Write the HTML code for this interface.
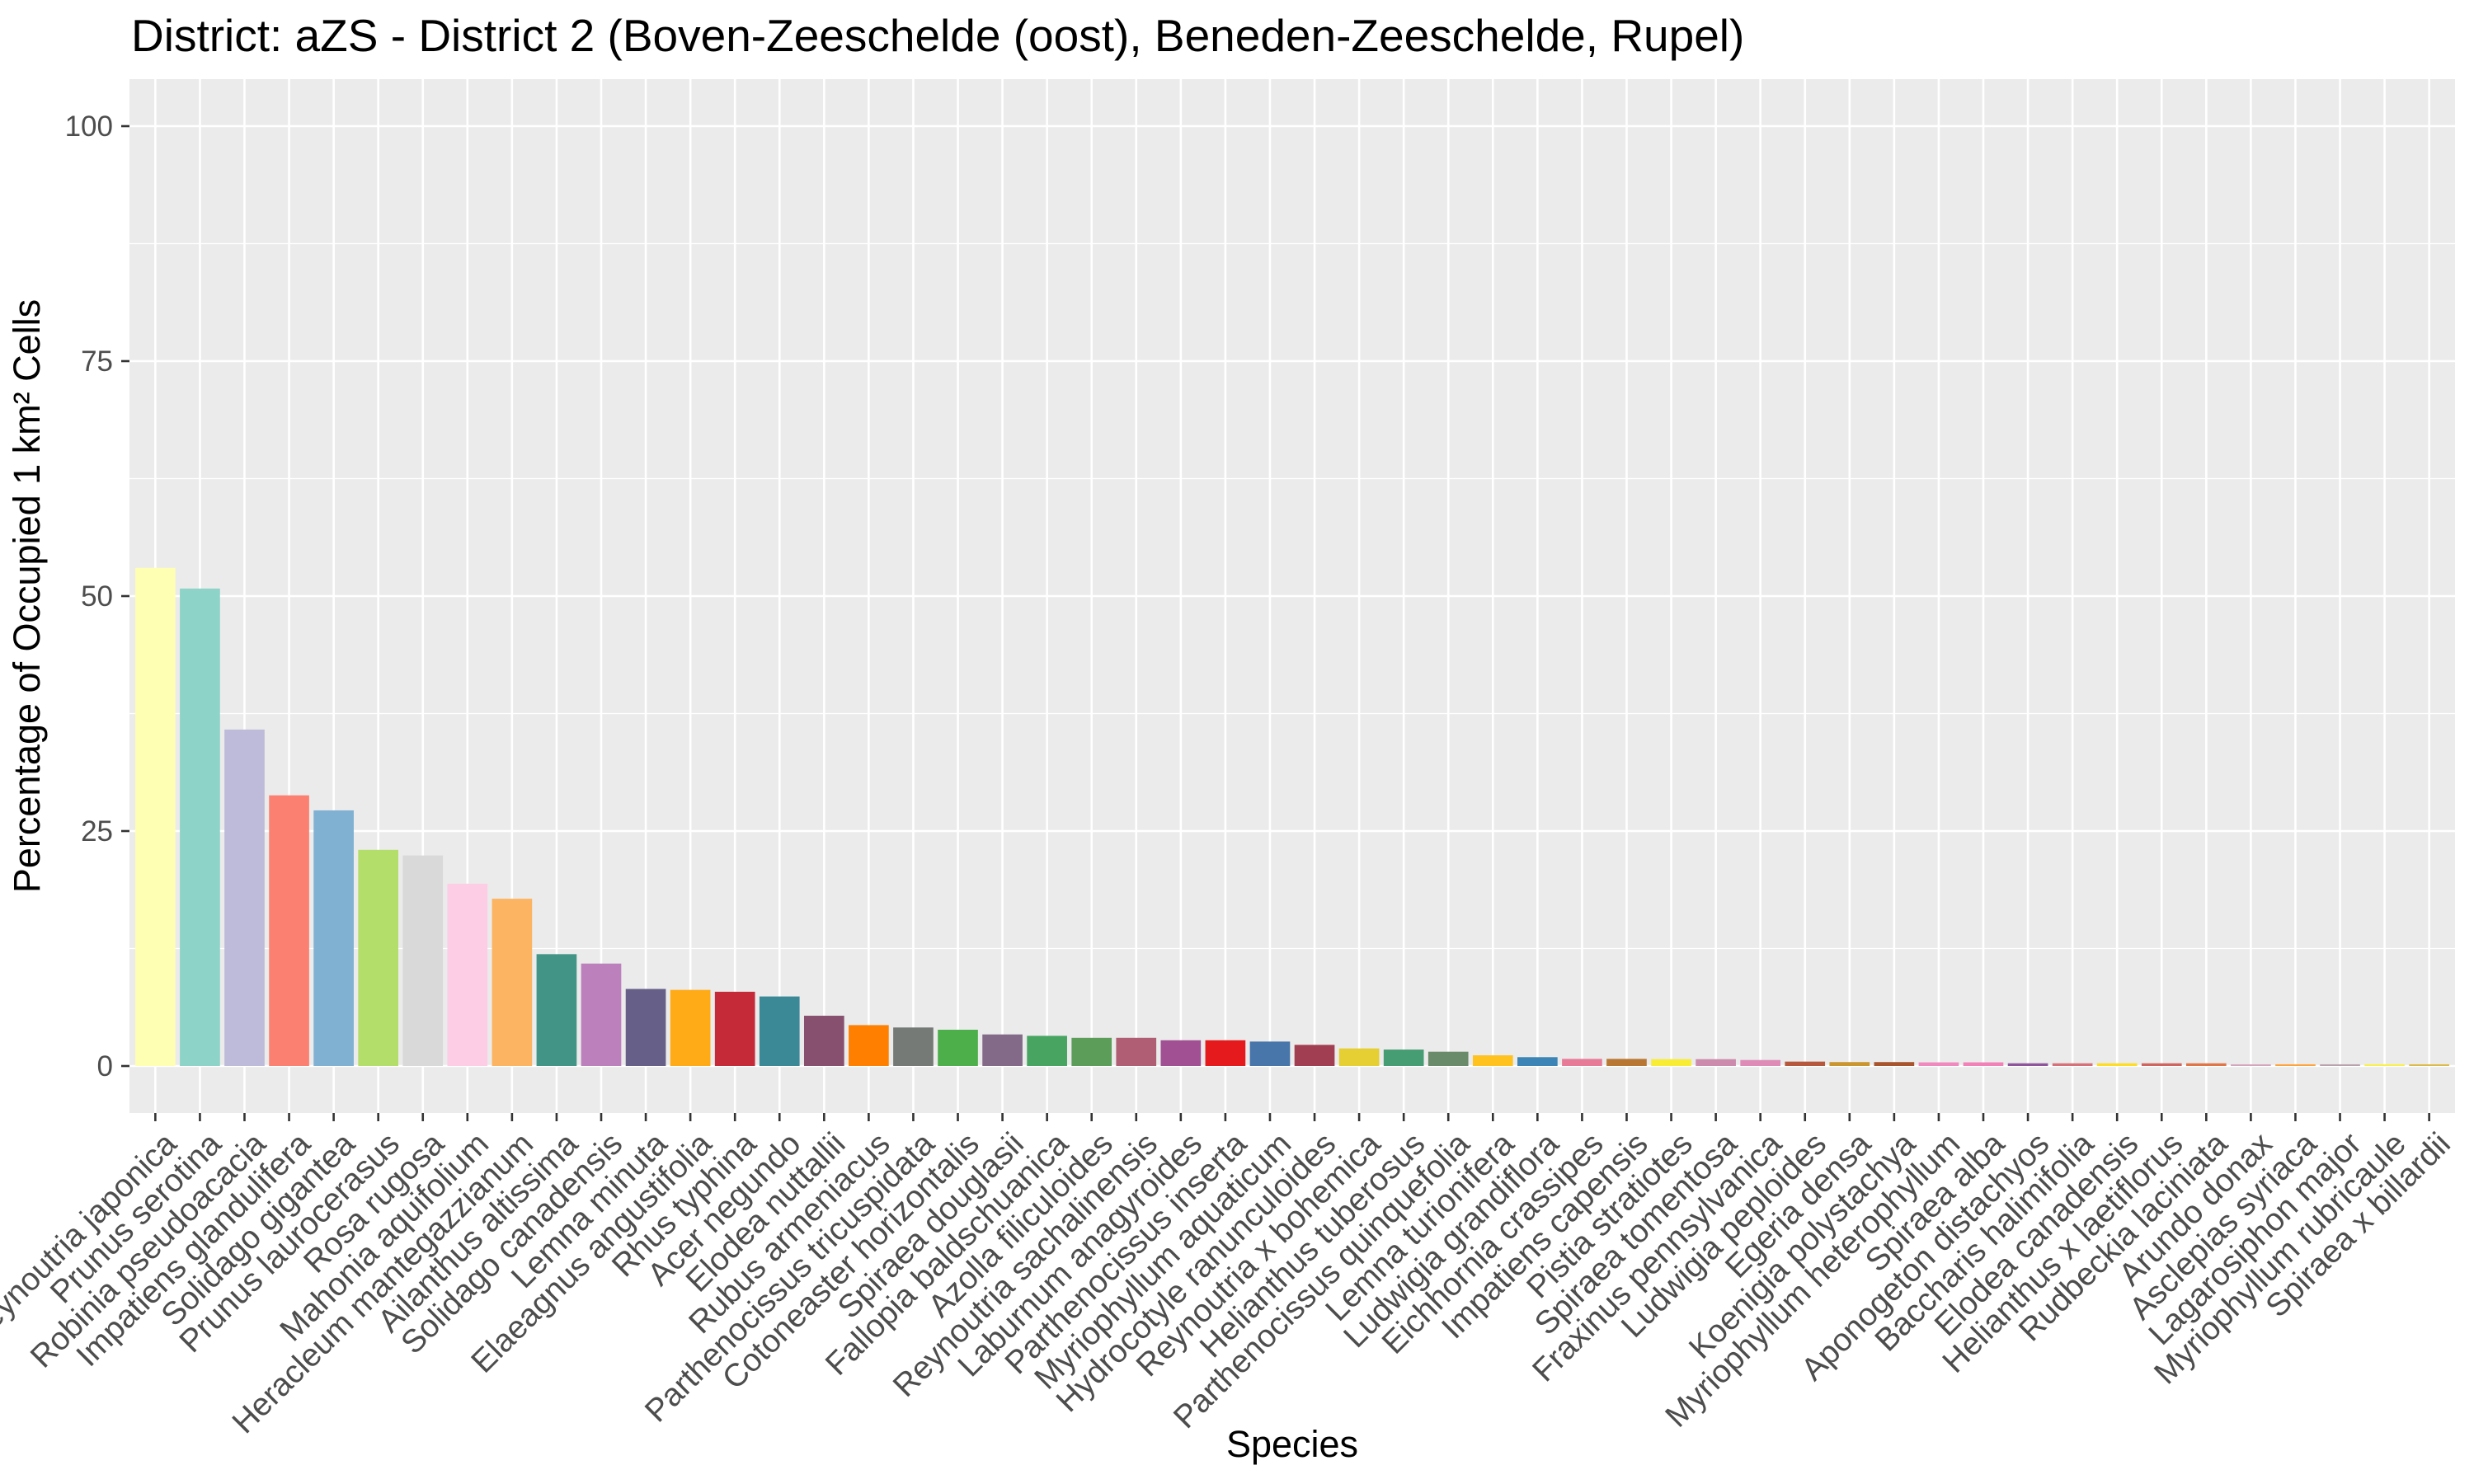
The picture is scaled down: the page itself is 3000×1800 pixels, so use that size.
<!DOCTYPE html>
<html><head><meta charset="utf-8"><style>
html,body{margin:0;padding:0;background:#fff;}
svg{display:block;font-family:"Liberation Sans",Arial,sans-serif;}
</style></head><body>
<svg id="chart" width="3000" height="1800" viewBox="0 0 3000 1800">
<text x="159" y="62" font-size="55" fill="#000">District: aZS - District 2 (Boven-Zeeschelde (oost), Beneden-Zeeschelde, Rupel)</text>
<rect x="157" y="96" width="2820" height="1254" fill="#EBEBEB"/>
<g id="grid"></g><g id="bars"></g><g id="yaxis"></g><g id="xaxis"></g>
<text transform="translate(48,723) rotate(-90)" text-anchor="middle" font-size="45" fill="#000">Percentage of Occupied 1 km² Cells</text>
<text x="1567" y="1767" text-anchor="middle" font-size="45" fill="#000">Species</text>
</svg>
<script>
const categories = ["Reynoutria japonica","Prunus serotina","Robinia pseudoacacia","Impatiens glandulifera","Solidago gigantea","Prunus laurocerasus","Rosa rugosa","Mahonia aquifolium","Heracleum mantegazzianum","Ailanthus altissima","Solidago canadensis","Lemna minuta","Elaeagnus angustifolia","Rhus typhina","Acer negundo","Elodea nuttallii","Rubus armeniacus","Parthenocissus tricuspidata","Cotoneaster horizontalis","Spiraea douglasii","Fallopia baldschuanica","Azolla filiculoides","Reynoutria sachalinensis","Laburnum anagyroides","Parthenocissus inserta","Myriophyllum aquaticum","Hydrocotyle ranunculoides","Reynoutria x bohemica","Helianthus tuberosus","Parthenocissus quinquefolia","Lemna turionifera","Ludwigia grandiflora","Eichhornia crassipes","Impatiens capensis","Pistia stratiotes","Spiraea tomentosa","Fraxinus pennsylvanica","Ludwigia peploides","Egeria densa","Koenigia polystachya","Myriophyllum heterophyllum","Spiraea alba","Aponogeton distachyos","Baccharis halimifolia","Elodea canadensis","Helianthus x laetiflorus","Rudbeckia laciniata","Arundo donax","Asclepias syriaca","Lagarosiphon major","Myriophyllum rubricaule","Spiraea x billardii"];
const values = [53.0,50.8,35.8,28.8,27.2,23.0,22.4,19.4,17.8,11.9,10.9,8.2,8.1,7.9,7.4,5.35,4.35,4.1,3.86,3.36,3.21,3.0,3.0,2.74,2.74,2.6,2.25,1.87,1.75,1.52,1.14,0.94,0.76,0.76,0.73,0.73,0.64,0.47,0.42,0.42,0.39,0.39,0.29,0.29,0.29,0.29,0.29,0.18,0.18,0.18,0.18,0.18];
const colors = ["#FFFFB3","#8DD3C7","#BEBADA","#FB8072","#80B1D3","#B3DE69","#D9D9D9","#FCCDE5","#FDB462","#419486","#BC80BD","#666089","#FFAB18","#C42A38","#3B8897","#87506E","#FF7F00","#757A77","#4DAF4A","#836A88","#48A461","#5C9D5A","#B05E73","#A05093","#E41A1C","#4875AA","#A23E52","#E5CF32","#479D73","#6A8B69","#FFC21F","#3B84B5","#E77B97","#B87833","#F8EC35","#CC8BAD","#DE8BB8","#B5583D","#CA962F","#A8552D","#F08ABE","#F281B7","#8E559C","#D6717A","#FFDD27","#CF655E","#E07548","#D4A6BD","#FFA23A","#B9A2AC","#FBF04A","#DDBA48"];
const yTicks = [0,25,50,75,100];
const yMinor = [12.5,37.5,62.5,87.5];

const NS="http://www.w3.org/2000/svg";
const panelL=157, panelR=2977, panelT=96, panelB=1350;
const yMin=-5, yMax=105;
function y(v){return panelB-(v-yMin)/(yMax-yMin)*(panelB-panelT);}
const step=(panelR-panelL)/(categories.length+0.16);
function x(i){return panelL+(i+0.58)*step;}
function mk(tag,attrs,parent){const e=document.createElementNS(NS,tag);for(const k in attrs)e.setAttribute(k,attrs[k]);parent.appendChild(e);return e;}
const grid=document.getElementById('grid'),bars=document.getElementById('bars'),ya=document.getElementById('yaxis'),xa=document.getElementById('xaxis');
yMinor.forEach(v=>{const l=mk('line',{x1:panelL,x2:panelR,y1:y(v),y2:y(v),stroke:'#fff','stroke-width':1.3},grid);

});
yTicks.forEach(v=>{const l=mk('line',{x1:panelL,x2:panelR,y1:y(v),y2:y(v),stroke:'#fff','stroke-width':2.6},grid);


const t=mk('line',{x1:panelL-10,x2:panelL,y1:y(v),y2:y(v),stroke:'#333','stroke-width':2.6},ya);


const tx=mk('text',{x:panelL-20,y:y(v)+12,'text-anchor':'end','font-size':35,fill:'#4D4D4D'},ya);
tx.textContent=v;

});
categories.forEach((c,i)=>{const cx=x(i);
const g=mk('line',{x1:cx,x2:cx,y1:panelT,y2:panelB,stroke:'#fff','stroke-width':2.6},grid);


const w=step*0.9;
const b=mk('rect',{x:cx-w/2,y:y(values[i]),width:w,height:y(0)-y(values[i]),fill:colors[i]},bars);


const t=mk('line',{x1:cx,x2:cx,y1:panelB,y2:panelB+10,stroke:'#333','stroke-width':2.6},xa);


const tx=mk('text',{transform:'translate('+(cx+8)+','+(panelB+20)+') rotate(-45)','text-anchor':'end','font-size':39,fill:'#4D4D4D',dy:'0.72em'},xa);
tx.textContent=c;

});
</script>
</body></html>
